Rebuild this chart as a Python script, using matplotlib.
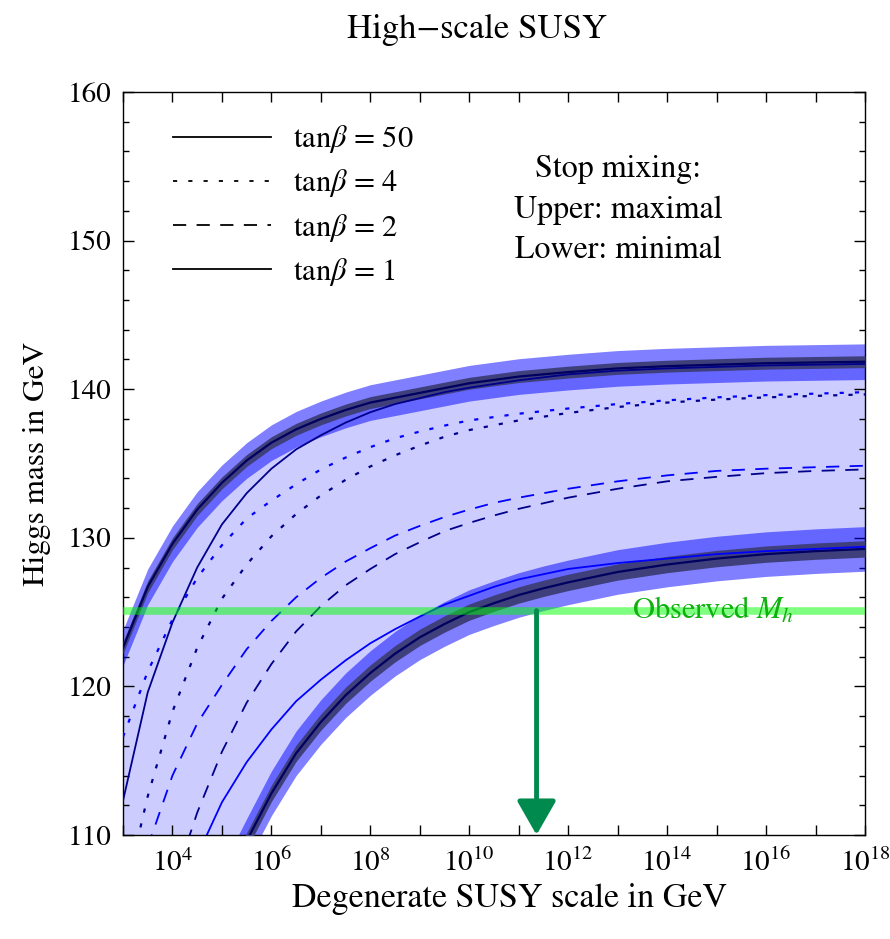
import numpy as np
import matplotlib
matplotlib.use("Agg")
import matplotlib.pyplot as plt
from matplotlib.ticker import FixedLocator, NullFormatter
from matplotlib.lines import Line2D

plt.rcParams['font.family'] = 'STIXGeneral'
plt.rcParams['mathtext.fontset'] = 'stix'
plt.rcParams['lines.scale_dashes'] = False

# curves: exponent of the SUSY scale (log10 GeV) and Higgs mass (GeV)
# thick bands: tan(beta)=50 maximal mixing (upper), tan(beta)=1 minimal mixing (lower)
up_exp = [3, 3.5, 4, 4.5, 5, 5.5, 6, 6.5, 7, 7.5, 8, 9, 10, 11, 12, 13, 14, 15, 16, 17, 18]
up_mh = [122.6, 126.7, 129.6, 131.9, 133.7, 135.2, 136.4, 137.3, 138.0, 138.6, 139.1, 139.75,
         140.4, 140.85, 141.15, 141.4, 141.55, 141.65, 141.75, 141.8, 141.85]
low_exp = [3, 4, 5, 5.5, 6, 6.5, 7, 7.5, 8, 8.5, 9, 9.5, 10, 10.5, 11, 11.5, 12, 13, 14, 15, 16, 17, 18]
low_mh = [90, 99, 106.3, 109.6, 112.8, 115.5, 117.6, 119.4, 120.9, 122.2, 123.3, 124.2, 125.0,
          125.6, 126.15, 126.6, 127.0, 127.7, 128.2, 128.6, 128.9, 129.1, 129.25]

# thin lines (pairs per tan(beta))
sol_n_exp = [3, 3.5, 4, 4.5, 5, 5.5, 6, 6.5, 7, 7.5, 8, 8.5, 9, 9.5, 10, 11, 12, 13, 14, 15, 16, 17, 18]
sol_n_mh = [112.3, 119.6, 124.3, 128.0, 130.9, 133.0, 134.65, 135.95, 136.9, 137.75, 138.45, 139.0,
            139.4, 139.8, 140.1, 140.6, 141.0, 141.25, 141.4, 141.5, 141.6, 141.65, 141.7]
sol_b_exp = [4.5, 5, 5.5, 6, 6.5, 7, 7.5, 8, 8.5, 9, 9.5, 10, 10.5, 11, 12, 13, 14, 15, 16, 17, 18]
sol_b_mh = [108.6, 112.2, 114.9, 117.1, 119.0, 120.45, 121.75, 122.9, 123.85, 124.7, 125.5, 126.1,
            126.7, 127.2, 127.9, 128.3, 128.6, 128.9, 129.1, 129.25, 129.4]
dot_b_exp = [3, 3.5, 4, 4.5, 5, 5.5, 6, 6.5, 7, 7.5, 8, 8.5, 9, 9.5, 10, 11, 12, 13, 14, 15, 16, 17, 18]
dot_b_mh = [116.6, 121.0, 124.5, 127.3, 129.5, 131.3, 132.5, 133.6, 134.6, 135.4, 136.1, 136.7,
            137.15, 137.55, 137.9, 138.35, 138.7, 139.0, 139.25, 139.45, 139.6, 139.7, 139.8]
dot_n_exp = [3, 3.5, 4, 4.5, 5, 5.5, 6, 6.5, 7, 7.5, 8, 8.5, 9, 9.5, 10, 11, 12, 13, 14, 15, 16, 17, 18]
dot_n_mh = [105.5, 112.6, 118.3, 122.6, 125.9, 128.2, 130.1, 131.6, 132.85, 133.9, 134.8, 135.55,
            136.2, 136.8, 137.25, 137.9, 138.4, 138.8, 139.1, 139.3, 139.45, 139.55, 139.65]
dash_b_exp = [3.5, 4, 4.5, 5, 5.5, 6, 6.5, 7, 7.5, 8, 8.5, 9, 9.5, 10, 10.5, 11, 12, 13, 14, 15, 16, 17, 18]
dash_b_mh = [109.2, 114.0, 117.5, 120.1, 122.5, 124.4, 126.0, 127.3, 128.4, 129.3, 130.15, 130.8,
             131.4, 131.9, 132.35, 132.7, 133.3, 133.8, 134.2, 134.5, 134.65, 134.75, 134.85]
dash_n_exp = [4, 4.5, 5, 5.5, 6, 6.5, 7, 7.5, 8, 8.5, 9, 9.5, 10, 10.5, 11, 12, 13, 14, 15, 16, 17, 18]
dash_n_mh = [106.5, 111.5, 115.6, 118.9, 121.5, 123.7, 125.4, 126.8, 127.9, 128.9, 129.7, 130.45,
             131.0, 131.5, 131.95, 132.7, 133.3, 133.8, 134.1, 134.35, 134.5, 134.6]

observed_mh = 125.1
arrow_exp = 11.36

legend_labels = [r"tan$\beta$ = 50", r"tan$\beta$ = 4", r"tan$\beta$ = 2", r"tan$\beta$ = 1"]

x_major = [4, 6, 8, 10, 12, 14, 16, 18]
x_minor = [3, 5, 7, 9, 11, 13, 15, 17]

DOT = (0, (3.0, 8.0))
DASH = (0, (9.5, 7.5))


def xs(e):
    return 10.0 ** np.asarray(e)


fig = plt.figure(figsize=(8.9, 9.39), dpi=100)
ax = fig.add_axes([0.1382, 0.1108, 0.8337, 0.7912])
ax.set_xscale('log')

# light fill between the two extreme curves
ux, uy = xs(up_exp), np.array(up_mh)
lx, ly = xs(low_exp), np.array(low_mh)
ly_on_u = np.interp(np.asarray(up_exp, float), low_exp, low_mh)
ax.fill_between(ux, ly_on_u, uy, color='#ccccff', lw=0, zorder=1)

# error bands on the thick curves
for x, y, wo, wi in [(ux, uy, 1.2, 0.4), (lx, ly, 1.5, 0.55)]:
    ax.fill_between(x, y - wo, y + wo, color='blue', alpha=0.5, lw=0, zorder=2)
    ax.fill_between(x, y - wi, y + wi, color='#3f3f7c', lw=0, zorder=3)
    ax.plot(x, y, color='#000060', lw=1.6, zorder=4)

# thin lines
ax.plot(xs(sol_n_exp), sol_n_mh, color='#00008b', lw=1.3, zorder=5)
ax.plot(xs(sol_b_exp), sol_b_mh, color='#0000ff', lw=1.3, zorder=5)
ax.plot(xs(dot_b_exp), dot_b_mh, color='#0000ff', lw=1.6, ls=DOT, zorder=5)
ax.plot(xs(dot_n_exp), dot_n_mh, color='#00008b', lw=1.6, ls=DOT, zorder=5)
ax.plot(xs(dash_b_exp), dash_b_mh, color='#0000ff', lw=1.3, ls=DASH, zorder=5)
ax.plot(xs(dash_n_exp), dash_n_mh, color='#00008b', lw=1.3, ls=DASH, zorder=5)

# observed Higgs mass
ax.axhline(observed_mh, color='#00ff00', alpha=0.5, lw=5.5, zorder=6)
ax.text(10 ** 13.3, observed_mh, r"Observed $M_h$", color='#10b010', fontsize=22,
        va='center', ha='left', zorder=7)
ax.annotate('', xy=(10 ** arrow_exp, 110.0), xytext=(10 ** arrow_exp, observed_mh),
            arrowprops=dict(arrowstyle='-|>,head_length=2.1,head_width=1.2', color='#008a4e',
                            lw=3.5, shrinkA=0, shrinkB=0), zorder=8)

ax.set_xlim(1e3, 1e18)
ax.set_ylim(110, 160)

# ticks
ax.xaxis.set_major_locator(FixedLocator(xs(x_major)))
ax.xaxis.set_minor_locator(FixedLocator(xs(x_minor)))
ax.xaxis.set_minor_formatter(NullFormatter())
ax.set_yticks(np.arange(110, 161, 10))
ax.set_yticks(np.arange(110, 161, 2), minor=True)
ax.tick_params(which='both', direction='in', top=True, right=True, labelsize=21, width=1.0)
ax.tick_params(axis='x', which='both', length=7, pad=10)
ax.tick_params(axis='y', which='major', length=8, pad=8)
ax.tick_params(axis='y', which='minor', length=4.5)
for s in ax.spines.values():
    s.set_linewidth(1.0)

ax.set_xlabel("Degenerate SUSY scale in GeV", fontsize=24.5)
ax.xaxis.set_label_coords(0.5216, -0.064)
ax.set_ylabel("Higgs mass in GeV", fontsize=22.5, labelpad=12)
fig.suptitle("High\u2212scale SUSY", fontsize=25, x=0.5365, y=0.985)

# legend
handles = [Line2D([], [], color='black', lw=1.3),
           Line2D([], [], color='black', lw=1.3, ls=DOT),
           Line2D([], [], color='black', lw=1.3, ls=DASH),
           Line2D([], [], color='black', lw=1.3)]
ax.legend(handles, legend_labels, loc='upper left', bbox_to_anchor=(0.03, 0.995),
          frameon=False, fontsize=22, handlelength=3.2, handletextpad=0.75, labelspacing=0.4)

ax.text(0.667, 0.841, "Stop mixing:\nUpper: maximal\nLower: minimal", transform=ax.transAxes,
        fontsize=23, ha='center', va='center', linespacing=1.5)

fig.savefig("out.png", dpi=100)
